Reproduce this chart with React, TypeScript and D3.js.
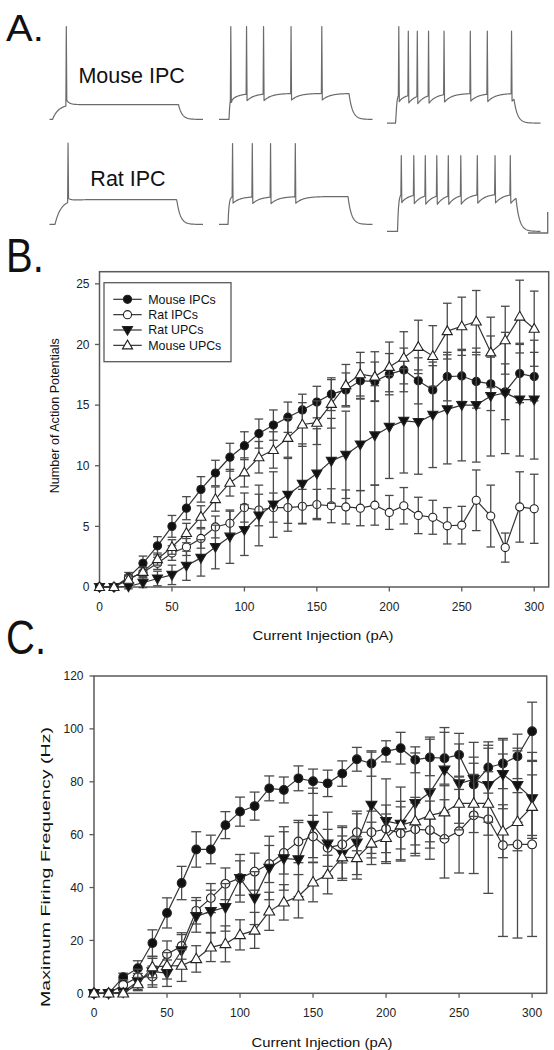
import React from "react";
import * as d3 from "d3";

// ---------------- DATA ----------------
const currents = [0, 10, 20, 30, 40, 50, 60, 70, 80, 90, 100, 110, 120, 130, 140, 150, 160, 170, 180, 190, 200, 210, 220, 230, 240, 250, 260, 270, 280, 290, 300];

// Panel B: number of action potentials (mean, SEM)
const mouseIPC_B = [0, 0, 0.8, 1.95, 3.4, 5.0, 6.5, 8.05, 9.4, 10.7, 11.65, 12.65, 13.35, 14.0, 14.6, 15.25, 15.9, 16.25, 17.0, 16.95, 17.55, 17.9, 17.0, 16.25, 17.35, 17.4, 16.95, 16.75, 16.1, 17.6, 17.35];
const mouseIPC_B_err = [0, 0, 0.4, 0.6, 0.75, 0.9, 0.95, 1.05, 1.05, 1.15, 1.15, 1.2, 1.25, 1.25, 1.3, 1.3, 1.35, 1.4, 1.5, 1.6, 1.7, 1.8, 1.9, 2.0, 2.0, 2.1, 2.2, 2.2, 2.3, 2.4, 2.0];
const ratIPC_B = [0, 0, 0.7, 1.2, 1.95, 2.8, 3.3, 4.0, 4.95, 5.25, 6.55, 6.35, 6.55, 6.55, 6.65, 6.8, 6.7, 6.6, 6.5, 6.75, 6.15, 6.7, 5.9, 5.75, 5.05, 5.1, 7.15, 5.85, 3.25, 6.6, 6.45];
const ratIPC_B_err = [0, 0, 0.3, 0.4, 0.5, 0.6, 0.7, 0.8, 0.9, 1.0, 1.2, 1.3, 1.2, 1.3, 1.4, 1.25, 1.4, 1.4, 1.45, 1.65, 1.4, 1.5, 1.5, 1.4, 1.5, 1.55, 2.5, 2.55, 1.2, 2.9, 2.85];
const ratUPC_B = [0, 0, 0.05, 0.35, 0.7, 1.0, 1.75, 2.4, 3.3, 4.15, 4.7, 5.9, 6.8, 7.6, 8.5, 9.35, 10.4, 10.9, 11.75, 12.5, 13.2, 13.7, 13.6, 14.2, 14.65, 15.0, 15.0, 15.75, 16.0, 15.45, 15.45];
const ratUPC_B_err = [0, 0, 0.2, 0.4, 0.6, 0.8, 1.2, 1.5, 1.8, 2.2, 2.1, 2.5, 2.7, 3.0, 3.3, 3.7, 3.5, 3.6, 3.8, 4.1, 4.25, 4.3, 4.3, 4.35, 4.5, 4.6, 4.7, 4.95, 5.0, 4.65, 4.9];
const mouseUPC_B = [0, 0, 0.6, 1.25, 2.3, 3.3, 4.45, 5.8, 7.25, 8.6, 9.45, 10.7, 11.3, 12.3, 13.4, 13.55, 15.1, 16.65, 17.55, 17.35, 18.15, 18.9, 19.8, 19.05, 21.1, 21.5, 21.9, 19.35, 20.35, 22.3, 21.3];
const mouseUPC_B_err = [0, 0, 0.3, 0.4, 0.5, 0.6, 0.8, 0.9, 1.0, 1.1, 1.2, 1.3, 1.5, 1.6, 1.8, 1.8, 2.0, 1.7, 1.8, 2.05, 2.05, 2.15, 2.2, 2.5, 2.3, 2.4, 2.55, 2.9, 2.8, 3.0, 3.1];

// Panel C: maximum firing frequency (Hz)
const mouseIPC_C = [0, 0, 6.1, 9.5, 19.0, 30.4, 41.7, 54.4, 54.4, 63.6, 68.7, 70.8, 77.5, 76.9, 81.3, 80.2, 79.4, 83.1, 88.5, 86.9, 91.5, 92.7, 88.3, 89.2, 88.9, 90.2, 79.0, 85.4, 86.9, 89.6, 99.1];
const mouseIPC_C_err = [0, 0, 1.5, 2.8, 5, 5.7, 6.3, 6.7, 5.4, 5.1, 5.5, 5.3, 4.7, 4.9, 4.7, 4.6, 5, 4.8, 4.5, 4.8, 4, 6, 4.9, 6.9, 9.8, 8.1, 8, 9.7, 9.5, 8.4, 11];
const ratIPC_C = [0, 0, 3.15, 6.1, 6.3, 14.8, 17.9, 31.2, 36.0, 41.4, 43.6, 46.0, 48.9, 53.1, 57.4, 59.3, 55.0, 56.3, 60.9, 60.9, 62.2, 60.5, 62.0, 61.7, 58.4, 61.3, 67.3, 65.8, 56.0, 56.3, 56.3];
const ratIPC_C_err = [0, 0, 2, 3, 4, 5, 5, 5, 5.5, 6, 6.5, 7, 7, 8, 8, 8, 7, 7, 7, 8, 9, 10, 10, 11, 14.8, 15.8, 22, 28, 34.5, 35.4, 34.8];
const ratUPC_C = [0, 0, 0.5, 4.5, 8.2, 7.6, 16.2, 29.1, 31.0, 32.5, 43.5, 36.0, 47.4, 51.0, 50.6, 63.6, 56.5, 52.7, 56.9, 71.2, 65.1, 64, 71.9, 75.9, 84.5, 79.3, 80.9, 78.7, 82.8, 78.7, 73.7];
const ratUPC_C_err = [0, 0, 1, 3, 5, 5, 6, 6, 8, 9, 9, 10, 12, 12, 14, 14, 12, 10, 12, 20, 16, 14, 19, 21, 16, 15, 14, 14, 13, 14, 14];
const mouseUPC_C = [0, 0, 0, 3.5, 9.9, 10.4, 10.5, 13.0, 17.4, 18.7, 22.1, 23.8, 31.0, 34.4, 36.7, 42.0, 44.9, 51.5, 51.2, 56.7, 58.8, 63.6, 65.1, 67.3, 68.5, 71.8, 71.8, 71.8, 61.3, 64.9, 70.6];
const mouseUPC_C_err = [0, 0, 1, 2.5, 4, 5, 6, 5, 5.4, 6.8, 5.7, 6.8, 7.2, 6.7, 8.2, 7.4, 7.3, 8, 8, 8, 9, 9, 9, 10, 10, 10, 11, 12, 10, 11, 12];

const seriesNames = ["Mouse IPCs", "Rat IPCs", "Rat UPCs", "Mouse UPCs"];
const xTickValues = [0, 50, 100, 150, 200, 250, 300];
const yTicksB = [0, 5, 10, 15, 20, 25];
const yTicksC = [0, 20, 40, 60, 80, 100, 120];

// Panel A: spike times (ms) of each example trace
const spikesMouseLow = [66];
const spikesMouseMid = [46, 109, 177, 287, 410];
const spikesMouseHigh = [46, 84, 120, 165, 227, 332, 400, 497];
const spikesRatLow = [73];
const spikesRatMid = [53, 132, 205, 304];
const spikesRatHigh = [56, 106, 152, 198, 244, 294, 360, 431, 492];
// resting / plateau potentials (mV), spike peak (mV), afterpotential (mV)
const traceBase = [-70, -70, -74, -70, -70, -77.5];
const tracePlateau = [-54, -42, -42, -43.3, -40, -37];
const tracePeak = [30, 30, 25, 17.6, 17, 4];
const traceAfter = [6, -7, -8, 4, -7, -9];
const traceOnset = [12, 40, 35, 22, 36, 42];
const traceOffset = [516, 520, 508, 509, 516, 516];

// ---------------- STYLE ----------------
const FONT = "'Liberation Sans', Arial, Helvetica, sans-serif";
const AXIS = "#5a5a5a";
const LINE = "#333";
const ERR = "#4a4a4a";

type MarkerKind = "filledCircle" | "openCircle" | "filledDown" | "openUp";
const markerKinds: MarkerKind[] = ["filledCircle", "openCircle", "filledDown", "openUp"];

function Marker({ kind, cx, cy, s }: { kind: MarkerKind; cx: number; cy: number; s: number }) {
  const isTri = kind === "filledDown" || kind === "openUp";
  const sym = d3.symbol().type(isTri ? d3.symbolTriangle : d3.symbolCircle).size(isTri ? s * 0.85 : s)();
  const filled = kind === "filledCircle" || kind === "filledDown";
  const rot = kind === "filledDown" ? 180 : 0;
  const dy = kind === "filledDown" ? -0.6 : kind === "openUp" ? 0.6 : 0;
  return (
    <path
      d={sym || ""}
      transform={`translate(${cx},${cy + dy}) rotate(${rot})`}
      fill={filled ? "#111" : "#fff"}
      stroke="#222"
      strokeWidth={1.1}
    />
  );
}

function Series({
  values, errs, x, y, kind, capW, msize,
}: {
  values: number[]; errs: number[]; x: d3.ScaleLinear<number, number>; y: d3.ScaleLinear<number, number>;
  kind: MarkerKind; capW: number; msize: number;
}) {
  const line = d3.line<number>().x((_, i) => x(currents[i])).y((v) => y(v));
  return (
    <g>
      {values.map((v, i) =>
        errs[i] > 0 ? (
          <g key={"e" + i} stroke={ERR} strokeWidth={1.3}>
            <line x1={x(currents[i])} x2={x(currents[i])} y1={y(v - errs[i])} y2={y(v + errs[i])} />
            <line x1={x(currents[i]) - capW} x2={x(currents[i]) + capW} y1={y(v + errs[i])} y2={y(v + errs[i])} />
            <line x1={x(currents[i]) - capW} x2={x(currents[i]) + capW} y1={y(v - errs[i])} y2={y(v - errs[i])} />
          </g>
        ) : null
      )}
      <path d={line(values) || ""} fill="none" stroke={LINE} strokeWidth={1.2} />
      {values.map((v, i) => (
        <Marker key={"m" + i} kind={kind} cx={x(currents[i])} cy={y(v)} s={msize} />
      ))}
    </g>
  );
}

function Axes({
  x, y, yTicks, right, labelX, xLabelBaseline, tickFont,
}: {
  x: d3.ScaleLinear<number, number>; y: d3.ScaleLinear<number, number>; yTicks: number[];
  right: number; labelX: number; xLabelBaseline: number; tickFont: number;
}) {
  const [y0, y1] = y.range();
  const left = x(0);
  return (
    <g fontFamily={FONT} fontSize={tickFont} fill="#222">
      <rect x={left} y={y1} width={right - left} height={y0 - y1} fill="none" stroke={AXIS} strokeWidth={1.5} />
      {yTicks.map((t) => (
        <g key={"y" + t}>
          <line x1={left - 4.5} x2={left} y1={y(t)} y2={y(t)} stroke={AXIS} strokeWidth={1.3} />
          <text x={labelX} y={y(t) + 4.2} textAnchor="end">{t}</text>
        </g>
      ))}
      {xTickValues.map((t) => (
        <g key={"x" + t}>
          <line x1={x(t)} x2={x(t)} y1={y0} y2={y0 + 4.5} stroke={AXIS} strokeWidth={1.3} />
          <text x={x(t)} y={xLabelBaseline} textAnchor="middle">{t}</text>
        </g>
      ))}
    </g>
  );
}

// ---- Panel A trace builder ----
function buildTrace(idx: number, spikes: number[]) {
  const base = traceBase[idx];
  const plateau = tracePlateau[idx];
  const onset = traceOnset[idx];
  const offset = traceOffset[idx];
  const after = traceAfter[idx];
  const tauOn = idx === 0 || idx === 3 ? 24 : 4;
  const tauAfter = after > 0 ? 14 : 30;
  const tauOff = 14;
  const V = (t: number) => {
    if (t < onset) return base;
    const tt = Math.min(t, offset);
    let v = plateau + (base - plateau) * Math.exp(-(tt - onset) / tauOn);
    for (const s of spikes) if (tt > s + 3) v += after * Math.exp(-(tt - s - 3) / tauAfter);
    if (t > offset) v = base + (v - base) * Math.exp(-(t - offset) / tauOff);
    return v;
  };
  const pts: [number, number][] = [];
  const times = d3.range(0, 616, 2).filter((t) => !spikes.some((s) => t >= s - 1 && t <= s + 4));
  times.forEach((t) => pts.push([t, V(t)]));
  spikes.forEach((s, k) => {
    const pk = idx === 2 && k === 0 ? 30 : tracePeak[idx];
    pts.push([s - 0.5, V(s - 0.5)]);
    pts.push([s + 1.2, pk]);
    pts.push([s + 3.2, V(s + 3.2)]);
  });
  pts.sort((a, b) => a[0] - b[0]);
  return pts;
}

function PanelA() {
  const colStarts = [49.5, 219, 387];
  const rowBases = [119.4, 224.4];
  const allSpikes = [spikesMouseLow, spikesMouseMid, spikesMouseHigh, spikesRatLow, spikesRatMid, spikesRatHigh];
  return (
    <g>
      {allSpikes.map((sp, idx) => {
        const col = idx % 3;
        const row = Math.floor(idx / 3);
        const tx = d3.scaleLinear().domain([0, 620]).range([colStarts[col], colStarts[col] + 155]);
        const vy = d3.scaleLinear().domain([-70, 30]).range([rowBases[row], rowBases[row] - 92.9]);
        const pts = buildTrace(idx, sp);
        const line = d3.line<[number, number]>().x((d) => tx(d[0])).y((d) => vy(d[1]));
        return <path key={idx} d={line(pts) || ""} fill="none" stroke="#6b6b6b" strokeWidth={1.2} strokeLinejoin="round" />;
      })}
      <text x={131.6} y={83} fontFamily={FONT} fontSize={21.5} textAnchor="middle" fill="#111">Mouse IPC</text>
      <text x={128} y={185.5} fontFamily={FONT} fontSize={21.5} textAnchor="middle" fill="#111">Rat IPC</text>
      <path d="M547.7,212 V233 H528" fill="none" stroke="#6b6b6b" strokeWidth={1.3} />
    </g>
  );
}

export default function App() {
  // Panel B scales
  const xB = d3.scaleLinear().domain([0, 310]).range([99.5, 548.7]);
  const yB = d3.scaleLinear().domain([0, 26]).range([587, 271.7]);
  // Panel C scales
  const xC = d3.scaleLinear().domain([0, 310]).range([94, 546.7]);
  const yC = d3.scaleLinear().domain([0, 120]).range([993.3, 676]);

  const bSeries = [
    { v: mouseIPC_B, e: mouseIPC_B_err },
    { v: ratIPC_B, e: ratIPC_B_err },
    { v: ratUPC_B, e: ratUPC_B_err },
    { v: mouseUPC_B, e: mouseUPC_B_err },
  ];
  const cSeries = [
    { v: mouseIPC_C, e: mouseIPC_C_err },
    { v: ratIPC_C, e: ratIPC_C_err },
    { v: ratUPC_C, e: ratUPC_C_err },
    { v: mouseUPC_C, e: mouseUPC_C_err },
  ];

  return (
    <svg width={554} height={1050} viewBox="0 0 554 1050" style={{ display: "block", position: "absolute", left: 0, top: 0, background: "#fff" }}>
      <rect width={554} height={1050} fill="#fff" />
      {/* Panel letters */}
      <text transform="translate(6,41) scale(1,0.92)" fontFamily={FONT} fontSize={40} fill="#111">A.</text>
      <text transform="translate(6,272) scale(1,1.2)" fontFamily={FONT} fontSize={40} fill="#111">B.</text>
      <text transform="translate(6,654) scale(1,1.22)" fontFamily={FONT} fontSize={40} fill="#111">C.</text>

      <PanelA />

      {/* Panel B */}
      <Axes x={xB} y={yB} yTicks={yTicksB} right={548.7} labelX={89.5} xLabelBaseline={611} tickFont={12} />
      {bSeries.map((s, i) => (
        <Series key={i} values={s.v} errs={s.e} x={xB} y={yB} kind={markerKinds[i]} capW={4.3} msize={52} />
      ))}
      <text x={323} y={640} fontFamily={FONT} fontSize={13} textAnchor="middle" textLength={141} lengthAdjust="spacingAndGlyphs" fill="#111">Current Injection (pA)</text>
      <text transform="translate(59,415.7) rotate(-90)" fontFamily={FONT} fontSize={12.5} textAnchor="middle" textLength={155} lengthAdjust="spacingAndGlyphs" fill="#111">Number of Action Potentials</text>
      {/* Legend */}
      <g fontFamily={FONT} fontSize={12.4} fill="#111">
        <rect x={104} y={282.7} width={127} height={79} fill="#fff" stroke={AXIS} strokeWidth={1.3} />
        {seriesNames.map((name, i) => {
          const yy = 299.3 + i * 15.35;
          return (
            <g key={name}>
              <line x1={113.3} x2={141.7} y1={yy} y2={yy} stroke={LINE} strokeWidth={1.2} />
              <Marker kind={markerKinds[i]} cx={127.5} cy={yy} s={52} />
              <text x={148.3} y={yy + 4.4}>{name}</text>
            </g>
          );
        })}
      </g>

      {/* Panel C */}
      <Axes x={xC} y={yC} yTicks={yTicksC} right={546.7} labelX={83.5} xLabelBaseline={1017} tickFont={12} />
      {cSeries.map((s, i) => (
        <Series key={i} values={s.v} errs={s.e} x={xC} y={yC} kind={markerKinds[i]} capW={5} msize={60} />
      ))}
      <text x={322} y={1047} fontFamily={FONT} fontSize={13} textAnchor="middle" textLength={141} lengthAdjust="spacingAndGlyphs" fill="#111">Current Injection (pA)</text>
      <text transform="translate(49.5,867) rotate(-90)" fontFamily={FONT} fontSize={13.5} textAnchor="middle" textLength={280} lengthAdjust="spacingAndGlyphs" fill="#111">Maximum Firing Frequency (Hz)</text>
    </svg>
  );
}
